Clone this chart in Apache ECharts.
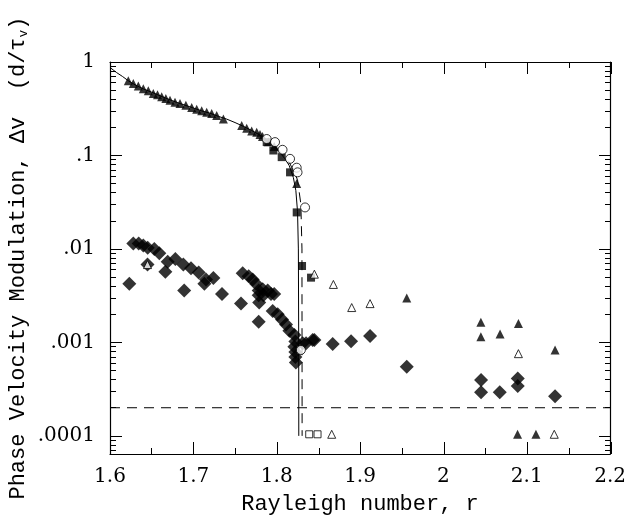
<!DOCTYPE html>
<html>
<head>
<meta charset="utf-8">
<script src="https://cdn.jsdelivr.net/npm/echarts@6/dist/echarts.min.js"></script>
<style>html,body{margin:0;padding:0;background:#fff}#chart{width:629px;height:522px}</style>
</head>
<body>
<div id="chart"></div>
<script>
// Rayleigh number r vs phase velocity modulation (log scale)
const yTickValues = [0.0001, 0.001, 0.01, 0.1, 1]
const yTickLabels = ['.0001', '.001', '.01', '.1', '1']
const yMinorValues = [0.00007, 0.00008, 0.00009,
    0.0002, 0.0003, 0.0004, 0.0005, 0.0006, 0.0007, 0.0008, 0.0009,
    0.002, 0.003, 0.004, 0.005, 0.006, 0.007, 0.008, 0.009,
    0.02, 0.03, 0.04, 0.05, 0.06, 0.07, 0.08, 0.09,
    0.2, 0.3, 0.4, 0.5, 0.6, 0.7, 0.8, 0.9]

// fitted curve (solid) and second fit (dashed)
const fitCurve = [[1.601,0.86],[1.608,0.77],[1.615,0.70],[1.622,0.63],[1.63,0.57],[1.64,0.515],
    [1.65,0.475],[1.66,0.435],[1.67,0.40],[1.68,0.37],[1.69,0.345],[1.70,0.322],[1.71,0.30],
    [1.72,0.283],[1.73,0.262],[1.74,0.245],[1.75,0.225],[1.76,0.205],[1.77,0.185],[1.78,0.165],
    [1.79,0.142],[1.80,0.118],[1.81,0.092],[1.815,0.078],[1.82,0.058],[1.823,0.042],[1.825,0.025],
    [1.826,0.01],[1.8264,0.001],[1.8265,0.0001]]
const fitDashed = [[1.80,0.12],[1.815,0.085],[1.825,0.055],[1.829,0.03],[1.8303,0.01],[1.8305,0.0001]]
const noiseLevel = [[1.6,0.0002],[2.2,0.0002]]

// data points
const filledTriangles = [[1.622,0.63],[1.628,0.59],[1.634,0.552],[1.640,0.517],[1.646,0.492],[1.652,0.461],
    [1.657,0.445],[1.662,0.424],[1.667,0.407],[1.672,0.39],[1.678,0.371],[1.684,0.36],[1.691,0.345],
    [1.698,0.326],[1.704,0.313],[1.710,0.30],[1.716,0.29],[1.722,0.281],[1.728,0.267],[1.736,0.246],
    [1.758,0.209],[1.764,0.195],[1.770,0.183],[1.776,0.177],[1.780,0.168],[1.783,0.16],[1.790,0.14],
    [1.797,0.125],[1.824,0.05],
    [1.956,0.00298],[2.045,0.00164],[2.045,0.00115],[2.068,0.00123],[2.09,0.00159],[2.134,0.000832],
    [2.089,0.000104],[2.111,0.000104]]
const filledSquares = [[1.788,0.139],[1.796,0.113],[1.806,0.096],[1.816,0.066],[1.824,0.0246],
    [1.8304,0.00657],[1.8412,0.00493]]
const openCircles = [[1.788,0.15],[1.798,0.139],[1.807,0.115],[1.816,0.092],[1.824,0.074],[1.825,0.066],
    [1.834,0.0278],[1.829,0.00083]]
const openTriangles = [[1.645,0.0068],[1.8452,0.00537],[1.868,0.00417],[1.890,0.00236],[1.912,0.0026],
    [2.09,0.000758],[1.866,0.000104],[2.133,0.000104]]
const openSquares = [[1.839,0.000104],[1.849,0.000104]]
const diamonds = [[1.6232,0.00425],[1.628,0.0114],[1.6344,0.0114],[1.640,0.0109],[1.6452,0.0103],
    [1.645,0.0068],[1.6532,0.0100],[1.6592,0.0090],[1.6664,0.0057],[1.6692,0.0073],[1.6784,0.0078],
    [1.689,0.0036],[1.688,0.0068],[1.6972,0.0062],[1.7064,0.0056],[1.7132,0.00425],[1.7152,0.0047],
    [1.724,0.0049],[1.7344,0.0033],[1.7572,0.0026],[1.7592,0.0055],[1.7664,0.0051],[1.7712,0.0047],
    [1.7752,0.00425],[1.7784,0.0036],[1.7784,0.0032],[1.779,0.00267],[1.7784,0.00166],[1.7832,0.0037],
    [1.784,0.0032],[1.7892,0.0036],[1.7932,0.0033],[1.797,0.0033],[1.7952,0.00217],[1.8012,0.0020],
    [1.8064,0.00176],[1.8112,0.00155],[1.8152,0.00133],[1.8212,0.0012],[1.8224,0.00102],[1.8212,0.0009],
    [1.8224,0.00079],[1.8224,0.0007],[1.823,0.00061],[1.8352,0.00098],[1.8452,0.00106],
    [1.8432,0.00106],[1.8312,0.00098],[1.8672,0.00096],[1.8892,0.00103],[1.912,0.00117],[1.956,0.00055],
    [2.0452,0.000397],[2.0452,0.000293],[2.0676,0.000293],[2.0892,0.00041],[2.0892,0.000341],[2.134,0.000265]]

const xTitle = 'Rayleigh number, r'
const yTitle = 'Phase Velocity Modulation, Δv  (d/τ{s|v})'

const labelFont = 'DejaVu Serif'
const nameFont = 'Liberation Mono'
const xMin = 1.6
const xMax = 2.2
const yMin = 0.000064
const yMax = 1

function yLabel(v){
    for(let i = 0;i<yTickValues.length;i++){
        if(Math.abs(Math.log10(yTickValues[i]) - Math.log10(v)) < 0.01) return yTickLabels[i]
    }
    return ''
}

// grid 0: frame, labels and data
function xAxisDef(bottom){
    return {
        type: 'value', min: xMin, max: xMax, interval: 0.1,
        position: bottom ? 'bottom' : 'top',
        axisLine: {show: true, lineStyle: {color: '#000', width: 1.2}},
        axisTick: {show: false},
        axisLabel: {show: bottom, margin: 13, fontFamily: labelFont, fontSize: 20, color: '#000',
            formatter: v => String(Math.round(v * 10) / 10)},
        splitLine: {show: false}
    }
}

function yAxisDef(left){
    return {
        type: 'log', logBase: 10, min: yMin, max: yMax,
        position: left ? 'left' : 'right',
        axisLine: {show: true, lineStyle: {color: '#000', width: 1.2}},
        axisTick: {show: false},
        axisLabel: {show: left, margin: 15, fontFamily: labelFont, fontSize: 20, color: '#000',
            customValues: yTickValues, formatter: yLabel},
        splitLine: {show: false}
    }
}

// grid 1 / grid 2: overlaid copies that only carry the inward ticks
function xTickAxisDef(grid, bottom, ticks){
    return {
        gridIndex: grid, type: 'value', min: xMin, max: xMax, interval: 0.1,
        position: bottom ? 'bottom' : 'top',
        show: ticks,
        axisLine: {show: false},
        axisTick: {show: ticks, inside: true, length: 12, lineStyle: {color: '#000', width: 1}},
        minorTick: {show: ticks, splitNumber: 2, length: 6, lineStyle: {color: '#000', width: 1}},
        axisLabel: {show: false},
        splitLine: {show: false}
    }
}

function yTickAxisDef(grid, left, values, len){
    return {
        gridIndex: grid, type: 'log', logBase: 10, min: yMin, max: yMax,
        position: left ? 'left' : 'right',
        axisLine: {show: false},
        axisTick: {show: true, inside: true, length: len, lineStyle: {color: '#000', width: 1},
            customValues: values},
        axisLabel: {show: false},
        splitLine: {show: false}
    }
}

function markers(data, symbol, size, filled){
    return {
        type: 'scatter', data: data, symbol: symbol, symbolSize: size, z: 4,
        itemStyle: filled ? {color: '#000'} : {color: '#fff', borderColor: '#000', borderWidth: 1}
    }
}

function line(data, dashed){
    return {
        type: 'line', data: data, symbol: 'none', z: 2,
        lineStyle: {color: '#000', width: 1, type: dashed ? [10, 7] : 'solid'}
    }
}

const plotRect = {left: 110, right: 18, top: 62, bottom: 68}
const myChart = echarts.init(document.getElementById('chart'))
myChart.setOption({
    animation: false,
    backgroundColor: '#fff',
    grid: [Object.assign({}, plotRect), Object.assign({}, plotRect), Object.assign({}, plotRect)],
    xAxis: [xAxisDef(true), xAxisDef(false),
        xTickAxisDef(1, true, true), xTickAxisDef(1, false, true),
        xTickAxisDef(2, true, false)],
    yAxis: [yAxisDef(true), yAxisDef(false),
        yTickAxisDef(1, true, yTickValues, 12), yTickAxisDef(1, false, yTickValues, 12),
        yTickAxisDef(2, true, yMinorValues, 6), yTickAxisDef(2, false, yMinorValues, 6)],
    graphic: [
        {type: 'text', x: 360, y: 504,
            style: {text: xTitle, fontFamily: nameFont, fontSize: 22, fill: '#000',
                align: 'center', verticalAlign: 'middle'}},
        {type: 'text', x: 18, y: 258, rotation: Math.PI / 2,
            style: {text: yTitle, fontFamily: nameFont, fontSize: 22, fill: '#000',
                align: 'center', verticalAlign: 'middle',
                rich: {s: {fontFamily: nameFont, fontSize: 13, padding: [12, 0, 0, 0], fill: '#000'}}}}
    ],
    series: [
        line(fitCurve, false),
        line(fitDashed, true),
        line(noiseLevel, true),
        markers(diamonds, 'diamond', 14, true),
        markers(filledTriangles, 'triangle', 9, true),
        markers(filledSquares, 'rect', 8, true),
        markers(openCircles, 'circle', 9, false),
        markers(openTriangles, 'triangle', 8, false),
        markers(openSquares, 'rect', 7, false)
    ]
})
</script>
</body>
</html>
